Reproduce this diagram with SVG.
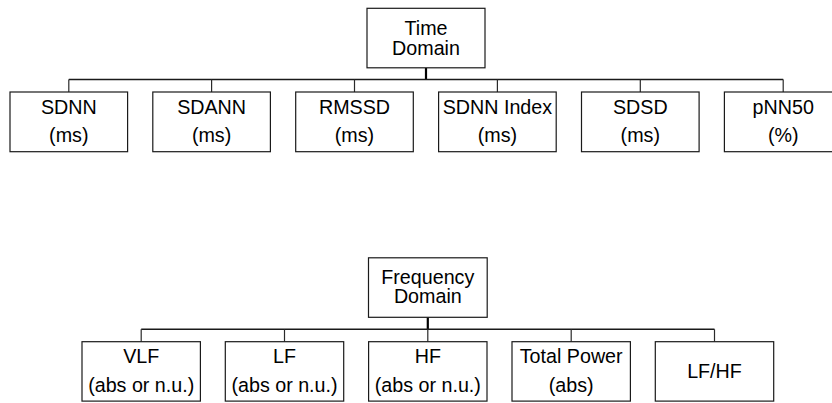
<svg xmlns="http://www.w3.org/2000/svg" width="832" height="403" viewBox="0 0 832 403">
  <style>
    .box { fill: #ffffff; stroke: #1a1a1a; stroke-width: 1.2; }
    .lbl { font-family: "Liberation Sans", Arial, sans-serif; font-size: 19.7px; fill: #000000; text-anchor: middle; }
    .trunk { fill: none; stroke: #000000; stroke-width: 2.2; }
    .bus { fill: none; stroke: #1a1a1a; stroke-width: 1.5; }
    .drop { fill: none; stroke: #2a2a2a; stroke-width: 1.2; }
  </style>
  <rect width="832" height="403" fill="#ffffff"/>

  <!-- connectors -->
  <g id="connectors">
    <!-- time domain tree -->
    <line class="trunk" x1="426" y1="68" x2="426" y2="79.5"/>
    <line class="bus" x1="68.8" y1="79.5" x2="783.2" y2="79.5"/>
    <line class="drop" x1="68.8" y1="79.5" x2="68.8" y2="92"/>
    <line class="drop" x1="211.6" y1="79.5" x2="211.6" y2="92"/>
    <line class="drop" x1="354.5" y1="79.5" x2="354.5" y2="92"/>
    <line class="drop" x1="497.4" y1="79.5" x2="497.4" y2="92"/>
    <line class="drop" x1="640.3" y1="79.5" x2="640.3" y2="92"/>
    <line class="drop" x1="783.2" y1="79.5" x2="783.2" y2="92"/>
    <!-- frequency domain tree -->
    <line class="trunk" x1="427.8" y1="317.3" x2="427.8" y2="329.3"/>
    <line class="bus" x1="141.2" y1="329.3" x2="714.5" y2="329.3"/>
    <line class="drop" x1="141.2" y1="329.3" x2="141.2" y2="341.7"/>
    <line class="drop" x1="284.5" y1="329.3" x2="284.5" y2="341.7"/>
    <line class="drop" x1="427.8" y1="329.3" x2="427.8" y2="341.7"/>
    <line class="drop" x1="571.2" y1="329.3" x2="571.2" y2="341.7"/>
    <line class="drop" x1="714.5" y1="329.3" x2="714.5" y2="341.7"/>
  </g>

  <!-- time domain -->
  <g id="time-domain">
    <rect class="box" x="367" y="8.3" width="118" height="59.5"/>
    <text class="lbl" x="426" y="35">Time</text>
    <text class="lbl" x="426" y="54.5">Domain</text>
  </g>
  <g id="sdnn">
    <rect class="box" x="10" y="92" width="117.6" height="59.7"/>
    <text class="lbl" x="68.8" y="114.4">SDNN</text>
    <text class="lbl" x="68.8" y="141.5">(ms)</text>
  </g>
  <g id="sdann">
    <rect class="box" x="152.8" y="92" width="117.6" height="59.7"/>
    <text class="lbl" x="211.6" y="114.4">SDANN</text>
    <text class="lbl" x="211.6" y="141.5">(ms)</text>
  </g>
  <g id="rmssd">
    <rect class="box" x="295.7" y="92" width="117.6" height="59.7"/>
    <text class="lbl" x="354.5" y="114.4">RMSSD</text>
    <text class="lbl" x="354.5" y="141.5">(ms)</text>
  </g>
  <g id="sdnn-index">
    <rect class="box" x="438.6" y="92" width="117.6" height="59.7"/>
    <text class="lbl" x="497.4" y="114.4">SDNN Index</text>
    <text class="lbl" x="497.4" y="141.5">(ms)</text>
  </g>
  <g id="sdsd">
    <rect class="box" x="581.5" y="92" width="117.6" height="59.7"/>
    <text class="lbl" x="640.3" y="114.4">SDSD</text>
    <text class="lbl" x="640.3" y="141.5">(ms)</text>
  </g>
  <g id="pnn50">
    <rect class="box" x="724.4" y="92" width="117.6" height="59.7"/>
    <text class="lbl" x="783.2" y="114.4">pNN50</text>
    <text class="lbl" x="783.2" y="141.5">(%)</text>
  </g>

  <!-- frequency domain -->
  <g id="frequency-domain">
    <rect class="box" x="368.5" y="257.8" width="118.7" height="59.5"/>
    <text class="lbl" x="427.8" y="283.5">Frequency</text>
    <text class="lbl" x="427.8" y="303.3">Domain</text>
  </g>
  <g id="vlf">
    <rect class="box" x="82" y="341.7" width="118.4" height="59.4"/>
    <text class="lbl" x="141.2" y="363.4">VLF</text>
    <text class="lbl" x="141.2" y="392.4">(abs or n.u.)</text>
  </g>
  <g id="lf">
    <rect class="box" x="225.3" y="341.7" width="118.4" height="59.4"/>
    <text class="lbl" x="284.5" y="363.4">LF</text>
    <text class="lbl" x="284.5" y="392.4">(abs or n.u.)</text>
  </g>
  <g id="hf">
    <rect class="box" x="368.6" y="341.7" width="118.4" height="59.4"/>
    <text class="lbl" x="427.8" y="363.4">HF</text>
    <text class="lbl" x="427.8" y="392.4">(abs or n.u.)</text>
  </g>
  <g id="total-power">
    <rect class="box" x="512" y="341.7" width="118.4" height="59.4"/>
    <text class="lbl" x="571.2" y="363.4">Total Power</text>
    <text class="lbl" x="571.2" y="392.4">(abs)</text>
  </g>
  <g id="lf-hf">
    <rect class="box" x="655.3" y="341.7" width="118.4" height="59.4"/>
    <text class="lbl" x="714.5" y="377.5">LF/HF</text>
  </g>
</svg>
